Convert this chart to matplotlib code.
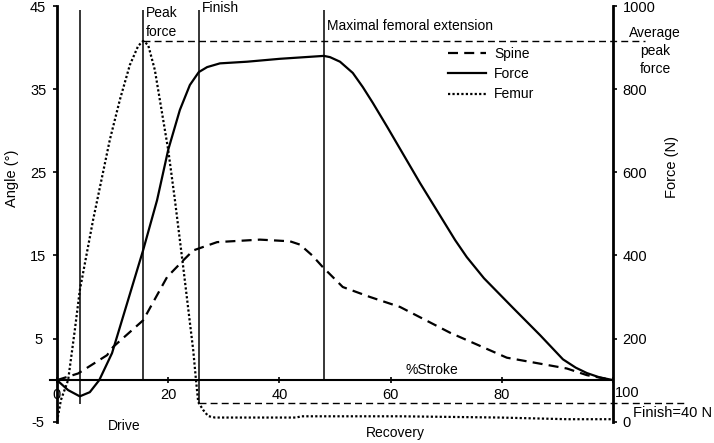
import matplotlib.pyplot as plt

plt.rcParams['font.family'] = ['Liberation Sans', 'DejaVu Sans']
plt.rcParams['axes.unicode_minus'] = False

# Force (N) over the stroke
stroke_force = [0, 2.0, 4.1, 5.9, 7.6, 9.9, 11.1, 15.5, 18.0, 20.0, 22.1, 23.9, 25.5,
                27.0, 29.3, 34.2, 40.1, 48.0, 49.1, 50.9, 53.2, 55.0, 56.8, 59.4, 65.3,
                71.6, 73.7, 76.8, 82.0, 86.9, 91.0, 93.3, 95.3, 97.5, 100]
force_n = [100, 76, 61, 71, 100, 165, 218, 413, 533, 654, 750, 810, 841,
           853, 862, 866, 873, 880, 877, 866, 839, 805, 767, 709, 574,
           437, 396, 345, 274, 208, 150, 130, 117, 107, 100]

# Spine angle (deg)
stroke_spine = [0, 3.8, 9.0, 10.1, 15.5, 19.8, 22.7, 24.5, 28.8, 36.5, 41.9, 43.7,
                45.9, 47.8, 51.4, 56.3, 61.7, 70.7, 80.9, 91.7, 95.3, 100]
spine_deg = [0, 0.8, 3.0, 4.0, 7.2, 12.4, 14.4, 15.6, 16.6, 16.9, 16.7, 16.3,
             15.0, 13.6, 11.2, 10.0, 8.8, 5.7, 2.7, 1.4, 0.6, 0]

# Femur angle (deg)
stroke_femur = [0, 0.7, 2.0, 3.2, 4.1, 6.5, 9.5, 11.3, 13.1, 14.6, 15.5, 16.4, 17.6,
                18.5, 20.0, 21.2, 22.7, 24.5, 25.0, 25.4, 26.3, 27.2, 28.4, 43.0, 44.0,
                61.7, 79.7, 91.7, 100]
femur_deg = [-5, -2.4, 0, 6.0, 10.8, 19.3, 28.9, 33.7, 37.9, 40.2, 40.8, 40.3, 37.3,
             33.7, 27.7, 21.7, 13.6, 3.6, 0, -2.65, -3.6, -4.33, -4.5, -4.5, -4.35,
             -4.35, -4.5, -4.7, -4.7]

# event markers (%stroke) and how far down they reach (deg)
event_x = [4.1, 15.5, 25.5, 48.0]
event_bottom = [-2.9, 0, -2.7, 0]
event_top = 44.5

avg_peak_force = 915
finish_force = 45

x_ticks = [0, 20, 40, 60, 80, 100]
x_ticklabels = ['0', '20', '40', '60', '80', '']
angle_ticks = [-5, 5, 15, 25, 35, 45]
force_ticks = [0, 200, 400, 600, 800, 1000]

fig = plt.figure(figsize=(7.14, 4.43), dpi=100)
ax = fig.add_axes([57 / 714, 21.3 / 443, 556 / 714, 415.7 / 443])
ax2 = ax.twinx()

ax.set_xlim(0, 100)
ax.set_ylim(-5, 45)
ax2.set_ylim(0, 1000)

for s in ['top', 'right']:
    ax.spines[s].set_visible(False)
ax.spines['bottom'].set_position(('data', 0))
ax.spines['bottom'].set_linewidth(1.5)
ax.spines['left'].set_linewidth(2.0)
for s in ['top', 'left', 'bottom']:
    ax2.spines[s].set_visible(False)
ax2.spines['right'].set_linewidth(2.0)

ax.set_xticks(x_ticks)
ax.set_xticklabels(x_ticklabels)
ax.set_yticks(angle_ticks)
ax2.set_yticks(force_ticks)
ax.tick_params(axis='x', direction='inout', length=5, width=1.2, pad=3, labelsize=10.5)
ax.tick_params(axis='y', direction='out', length=3, width=1.2, pad=10.5, labelsize=10.5)
ax2.tick_params(axis='y', direction='out', length=3, width=1.2, pad=4, labelsize=10.5)
for lab in ax.get_yticklabels():
    lab.set_horizontalalignment('center')

# label of the last x tick sits right of the force axis
ax.text(102.5, -1.55, '100', ha='center', va='center', fontsize=10.5)

# small overhang of the x axis line to the left
ax.plot([-1.3, 0], [0, 0], color='black', lw=1.5, clip_on=False)

ax.vlines(event_x, event_bottom, event_top, color='black', lw=1.1)

ax2.hlines(avg_peak_force, 15.5, 105.8, color='black', lw=1.0,
           linestyles=(0, (5, 3)), clip_on=False)
ax2.hlines(finish_force, 25.5, 113, color='black', lw=1.0,
           linestyles=(0, (5, 3)), clip_on=False)

l_spine, = ax.plot(stroke_spine, spine_deg, color='black', lw=1.6,
                   ls=(0, (4.5, 2.8)), label='Spine')
l_femur, = ax.plot(stroke_femur, femur_deg, color='black', lw=1.6,
                   ls=(0, (1, 1)), label='Femur')
l_force, = ax2.plot(stroke_force, force_n, color='black', lw=1.6, label='Force')

fig.legend([l_spine, l_force, l_femur], ['Spine', 'Force', 'Femur'],
           loc='upper left', bbox_to_anchor=(448 / 714, 1 - 47 / 443),
           frameon=False, fontsize=10, handlelength=2.7, handletextpad=0.6,
           labelspacing=0.45, borderpad=0, borderaxespad=0)

ax.text(67.5, 1.2, '%Stroke', ha='center', va='center', fontsize=10)
ax.text(12.1, -5.5, 'Drive', ha='center', va='center', fontsize=10)
ax.text(60.8, -6.4, 'Recovery', ha='center', va='center', fontsize=10)
ax.text(15.9, 44.1, 'Peak', ha='left', va='center', fontsize=10)
ax.text(15.9, 41.9, 'force', ha='left', va='center', fontsize=10)
ax.text(26.1, 44.8, 'Finish', ha='left', va='center', fontsize=10)
ax.text(48.6, 42.6, 'Maximal femoral extension', ha='left', va='center', fontsize=10)
ax.text(107.6, 39.6, 'Average\npeak\nforce', ha='center', va='center', fontsize=10,
        linespacing=1.35)
ax.text(103.6, -4.0, 'Finish=40 N', ha='left', va='center', fontsize=10.5)

fig.text(12 / 714, 1 - 178 / 443, 'Angle (°)', rotation=90, ha='center', va='center',
         fontsize=10.5)
fig.text(672 / 714, 1 - 167 / 443, 'Force (N)', rotation=90, ha='center', va='center',
         fontsize=10.5)

fig.savefig('out.png', dpi=100)
